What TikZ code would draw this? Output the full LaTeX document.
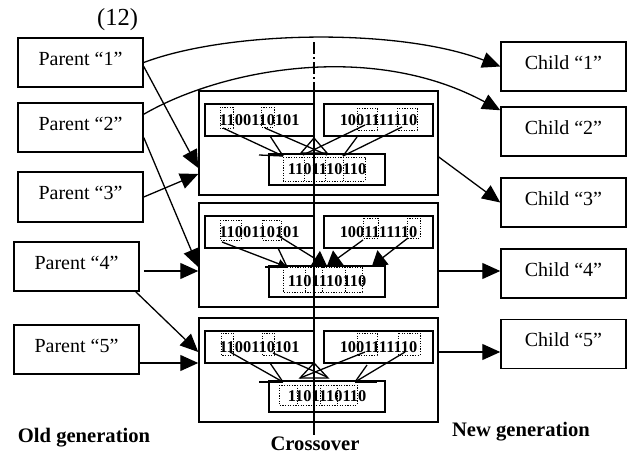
\documentclass[tikz,border=0pt]{standalone}
\usepackage{fontspec}
\setmainfont{Liberation Serif}
\usetikzlibrary{arrows.meta,calc}

\begin{document}
\begin{tikzpicture}[x=1pt,y=-1pt,
  box/.style={draw, line width=1.5pt, rectangle, inner sep=0pt,
    minimum width=125pt, minimum height=49pt,
    text height=13.5pt, text depth=8pt,
    font=\fontsize{20}{24}\selectfont},
  frame/.style={draw, line width=1.5pt, rectangle, inner sep=0pt,
    minimum width=239pt, minimum height=104pt},
  bits/.style={draw, line width=1.5pt, rectangle, inner sep=0pt,
    minimum width=109pt, minimum height=32pt,
    font=\fontsize{16.4}{20}\selectfont\bfseries},
  childbits/.style={bits, minimum width=116pt, minimum height=31pt},
  bitmark/.style={draw, line width=0.9pt, dash pattern=on 1.2pt off 1.4pt},
  link/.style={line width=1.3pt},
  arr/.style={link, -{Triangle[length=18pt,width=16pt]}},
  inarr/.style={link, -{Triangle[length=14pt,width=18pt]}},
  smallarr/.style={link, -{Triangle[length=9pt,width=9pt]}},
  axis/.style={line width=1.6pt},
  axisgap/.style={line width=1.6pt, dash pattern=on 12pt off 3pt on 2pt off 3pt},
  caption/.style={inner sep=0pt, font=\fontsize{20.6}{24}\selectfont\bfseries}
]
\useasboundingbox (0,0) rectangle (644,455);

% title
\node[font=\fontsize{24.5}{28}\selectfont] (title) at (117.5,20) {(12)};

% old generation
\node[box] (p1) at (80.5,62.5) {Parent “1”};
\node[box] (p2) at (80.5,127.5) {Parent “2”};
\node[box, minimum height=50pt] (p3) at (80.5,197) {Parent “3”};
\node[box] (p4) at (76.5,266.5) {Parent “4”};
\node[box] (p5) at (76.5,349.5) {Parent “5”};

% new generation
\node[box] (c1) at (563.5,66.5) {Child “1”};
\node[box] (c2) at (563.5,131.5) {Child “2”};
\node[box] (c3) at (563.5,202.5) {Child “3”};
\node[box] (c4) at (563.5,273.5) {Child “4”};
\node[box] (c5) at (563.5,344) {Child “5”};

% crossover 1
\begin{scope}[shift={(0,91)}]
  \node[frame] (x1) at (318.5,52) {};
  \node[bits] (x1l) at (259.5,29) {1100110101};
  \node[bits] (x1r) at (378.5,29) {1001111110};
  \node[childbits] (x1c) at (327,78.5) {1101110110};
  \draw[bitmark] (220,16) rectangle (233,37);
  \draw[bitmark] (261,16) rectangle (274,36);
  \draw[bitmark] (357,17) rectangle (377,39);
  \draw[bitmark] (397,17) rectangle (417,39);
  \draw[bitmark] (283,66) rectangle (365,90);
  \draw[bitmark] (304,66) -- (304,90) (325,66) -- (325,90) (343,66) -- (343,90);
  \coordinate (x1p) at (283,65);
  \coordinate (x1q) at (327,64);
  \coordinate (x1s) at (303,64);
  \coordinate (x1t) at (343,65);
  \draw[link] (223,37) -- (x1p);
  \draw[link] (270,45) -- (x1p);
  \draw[link] (265,37) -- (x1q);
  \draw[link] (365,34) -- (x1s);
  \draw[link] (402,36) -- (x1t);
  \draw[link] (357,46) -- (x1t);
  \draw[link] (314,47) -- (301,62) -- (327,62) -- cycle;
  \draw[link] (259,64) -- (x1p);
\end{scope}

% crossover 2
\begin{scope}[shift={(0,203)}]
  \node[frame] (x2) at (318.5,52) {};
  \node[bits] (x2l) at (259.5,29) {1100110101};
  \node[bits] (x2r) at (378.5,29) {1001111110};
  \node[childbits] (x2c) at (327,78.5) {1101110110};
  \draw[bitmark] (220,17) rectangle (241,37);
  \draw[bitmark] (262,17) rectangle (281,37);
  \draw[bitmark] (363,15) rectangle (378,35);
  \draw[bitmark] (407,15) rectangle (420,35);
  \draw[bitmark] (283,64) rectangle (362,89);
  \draw[bitmark] (305,64) -- (305,89) (322,64) -- (322,89) (345,64) -- (345,89);
  \coordinate (x2p) at (287,64);
  \coordinate (x2q) at (327,63);
  \coordinate (x2t) at (372,63);
  \draw[smallarr] (222,39) -- (x2p);
  \draw[link] (278,45) -- (x2p);
  \draw[inarr] (277,32) -- (x2q);
  \draw[inarr] (363,37) -- (x2q);
  \draw[inarr] (408,35) -- (x2t);
  \draw[link] (265,64) -- (x2p);
\end{scope}

% crossover 3
\begin{scope}[shift={(0,318)}]
  \node[frame] (x3) at (318.5,52) {};
  \node[bits] (x3l) at (259.5,29) {1100110101};
  \node[bits] (x3r) at (378.5,29) {1001111110};
  \node[childbits] (x3c) at (327,78.5) {1101110110};
  \draw[bitmark] (221,15) rectangle (233,37);
  \draw[bitmark] (262,15) rectangle (274,37);
  \draw[bitmark] (357,15) rectangle (377,37);
  \draw[bitmark] (398,15) rectangle (420,37);
  \draw[bitmark] (279,67) rectangle (357,87);
  \draw[bitmark] (297,67) -- (297,87) (320,67) -- (320,87) (337,67) -- (337,87);
  \coordinate (x3p) at (283,64);
  \coordinate (x3q) at (327,59);
  \coordinate (x3s) at (300,60);
  \coordinate (x3t) at (355,64);
  \draw[link] (230,34) -- (x3p);
  \draw[link] (270,45) -- (x3p);
  \draw[link] (273,35) -- (x3q);
  \draw[link] (365,34) -- (x3s);
  \draw[link] (405,34) -- (x3t);
  \draw[link] (367,47) -- (x3t);
  \draw[link] (314,45) -- (300,60) -- (328,60) -- cycle;
  \draw[link] (259,64) -- (x3p);
  \draw[link] (x3t) -- (377,64);
\end{scope}

% crossover axis
\coordinate (axtop) at (314,42);
\coordinate (axbot) at (314,437);
\draw[axisgap] (axtop) -- (x1.north -| axtop);
\draw[axis] (x1.north -| axtop) -- (x1.south -| axtop);
\draw[axisgap] (x1.south -| axtop) -- (x2.north -| axtop);
\draw[axis] (x2.north -| axtop) -- (x2.south -| axtop);
\draw[axisgap] (x2.south -| axtop) -- (x3.north -| axtop);
\draw[axis] (x3.north -| axtop) -- (x3.south -| axtop);
\draw[axisgap] (x3.south -| axtop) -- (axbot);

% parents passed on unchanged
\draw[arr] (p1.east) .. controls (230,30) and (400,28) .. (c1.west);
\draw[arr] ($(p2.north east)+(0,12)$) .. controls (220,70) and (370,40) .. ($(c2.north west)+(0,4)$);

% parents into crossover
\draw[arr] ($(p1.east)+(0,4)$) -- ($(x1.west)+(0,25)$);
\draw[arr] (p3.east) -- ($(x1.west)+(0,31)$);
\draw[arr] ($(p2.east)+(0,10)$) -- ($(x2.west)+(0,12)$);
\draw[arr] ($(p4.east)+(4,4.5)$) -- ($(x2.west)+(0,16)$);
\draw[arr] ($(p4.south east)+(-4,0)$) -- ($(x3.west)+(0,-18)$);
\draw[arr] ($(p5.east)+(0,13.5)$) -- ($(x3.west)+(0,-7)$);

% offspring out of crossover
\draw[arr] ($(x1.east)+(0,14)$) -- (c3.west);
\draw[arr] ($(x2.east)+(0,16)$) -- ($(c4.west)+(0,-2.5)$);
\draw[arr] ($(x3.east)+(0,-18)$) -- ($(c5.west)+(0,8)$);

% column captions
\node[caption] (oldgen) at (84,438) {Old generation};
\node[caption] (xover) at (315,444) {Crossover};
\node[caption] (newgen) at (521,432) {New generation};
\end{tikzpicture}
\end{document}
